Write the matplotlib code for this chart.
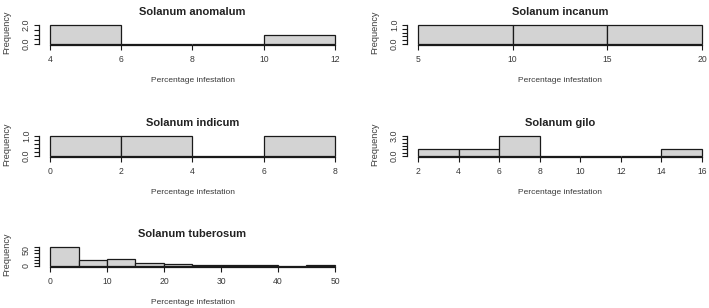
import numpy as np
import matplotlib.pyplot as plt

W, H = 709, 308

titles = ["Solanum anomalum", "Solanum incanum", "Solanum indicum",
          "Solanum gilo", "Solanum tuberosum"]

anomalum_breaks = [4, 6, 8, 10, 12]
anomalum_counts = [2, 0, 0, 1]
incanum_breaks = [5, 10, 15, 20]
incanum_counts = [1, 1, 1]
indicum_breaks = [0, 2, 4, 6, 8]
indicum_counts = [1, 1, 0, 1]
gilo_breaks = [2, 4, 6, 8, 10, 12, 14, 16]
gilo_counts = [1, 1, 3, 0, 0, 0, 1]
tuberosum_breaks = [0, 5, 10, 15, 20, 25, 30, 35, 40, 45, 50]
tuberosum_counts = [60, 18, 23, 10, 5, 2, 2, 2, 0, 2]

anomalum_xticks = [4, 6, 8, 10, 12]
incanum_xticks = [5, 10, 15, 20]
indicum_xticks = [0, 2, 4, 6, 8]
gilo_xticks = [2, 4, 6, 8, 10, 12, 14, 16]
tuberosum_xticks = [0, 10, 20, 30, 40, 50]

anomalum_yticks = [0, 0.5, 1, 1.5, 2]
unit_yticks = [0, 0.2, 0.4, 0.6, 0.8, 1.0]
gilo_yticks = [0, 0.5, 1, 1.5, 2, 2.5, 3]
tuberosum_yticks = [0, 10, 20, 30, 40, 50, 60]

ytick_labels = [{0: "0.0", 2: "2.0"}, {0: "0.0", 1.0: "1.0"},
                {0: "0.0", 1.0: "1.0"}, {0: "0.0", 3: "3.0"},
                {0: "0", 50: "50"}]

panels = [
    (anomalum_breaks, anomalum_counts, anomalum_xticks, anomalum_yticks),
    (incanum_breaks, incanum_counts, incanum_xticks, unit_yticks),
    (indicum_breaks, indicum_counts, indicum_xticks, unit_yticks),
    (gilo_breaks, gilo_counts, gilo_xticks, gilo_yticks),
    (tuberosum_breaks, tuberosum_counts, tuberosum_xticks, tuberosum_yticks),
]

# pixel spans of the data range (x: first..last break, y: 0..top tick)
cols = [(50, 335), (418, 702)]
rows = [(44, 25), (156, 136), (266, 247)]

TXT = "#3a3a3a"
plt.rcParams['font.family'] = ['Liberation Sans', 'DejaVu Sans']

fig = plt.figure(figsize=(W / 100, H / 100), dpi=100)


def fx(px):
    return px / W


def fy(py):
    return 1 - py / H


for i, (breaks, counts, xt, yt) in enumerate(panels):
    c0, c1 = cols[i % 2]
    r0, r1 = rows[i // 2]
    x0, x1 = breaks[0], breaks[-1]
    y0, y1 = 0, yt[-1]
    px_per_x = (c1 - c0) / (x1 - x0)
    px_per_y = (r0 - r1) / (y1 - y0)
    padx = 0.04 * (x1 - x0)
    pady = 0.04 * (y1 - y0)
    left = c0 - padx * px_per_x
    right = c1 + padx * px_per_x
    bottom = r0 + pady * px_per_y
    top = r1 - pady * px_per_y
    ax = fig.add_axes([fx(left), fy(bottom), fx(right - left), (bottom - top) / H])
    ax.set_xlim(x0 - padx, x1 + padx)
    ax.set_ylim(y0 - pady, y1 + pady)
    ax.patch.set_alpha(0)

    widths = np.diff(breaks)
    ax.bar(breaks[:-1], counts, width=widths, align='edge',
           color='#d3d3d3', edgecolor='#1a1a1a', linewidth=0.9)

    for s in ['top', 'right']:
        ax.spines[s].set_visible(False)
    ax.spines['left'].set_bounds(yt[0], yt[-1])
    ax.spines['bottom'].set_bounds(xt[0], xt[-1])
    for s in ['left', 'bottom']:
        ax.spines[s].set_linewidth(0.9)
        ax.spines[s].set_color('#1a1a1a')

    ax.set_xticks(xt)
    ax.set_xticklabels([str(v) for v in xt])
    ax.set_yticks(yt)
    labs = ytick_labels[i]
    ax.set_yticklabels([labs.get(v, "") for v in yt], rotation=90, va='center')
    ax.tick_params(axis='x', length=3.6, width=0.8, pad=4, labelsize=6.2,
                   colors='#1a1a1a', labelcolor=TXT)
    ax.tick_params(axis='y', length=3.6, width=0.8, pad=2.0, labelsize=6.4,
                   colors='#1a1a1a', labelcolor=TXT)

    cx = (left + right) / 2
    fig.text(fx(cx), fy(top - 12.5), titles[i], ha='center', va='center',
             fontsize=8, fontweight='bold', color='#222222')
    fig.text(fx(cx), fy(bottom + 35.5), "Percentage infestation",
             ha='center', va='center', fontsize=6, color=TXT)
    fig.text(fx(left - 31.5), fy((top + bottom) / 2 - 2), "Frequency",
             ha='center', va='center', rotation=90, fontsize=6.6, color=TXT)

fig.savefig("out.png", dpi=100)
